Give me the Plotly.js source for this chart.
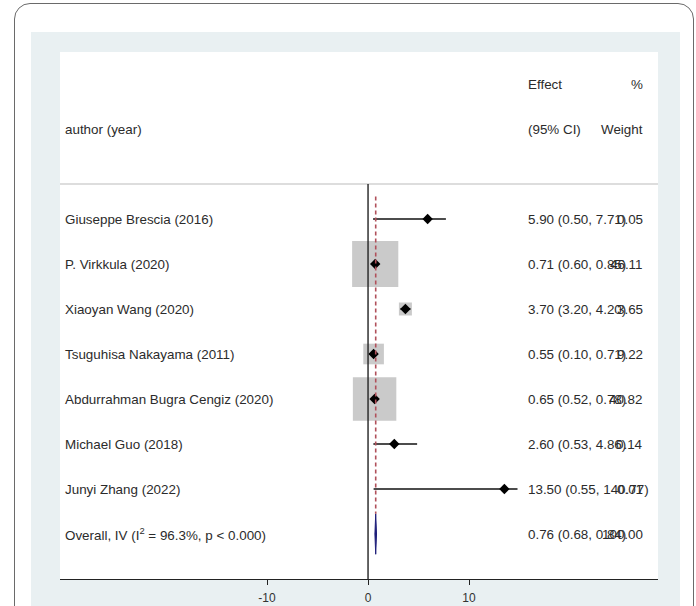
<!DOCTYPE html>
<html>
<head>
<meta charset="utf-8">
<script src="https://cdn.plot.ly/plotly-3.0.1.min.js"></script>
<style>
  html, body { margin:0; padding:0; background:#ffffff; width:696px; height:606px; overflow:hidden; }
  #frame { position:absolute; left:14px; top:3px; width:678px; height:640px; border:1px solid #6a6a6a; border-radius:16px; background:#ffffff; }
  #region { position:absolute; left:31px; top:32px; width:649px; height:600px; background:#e9f0f2; }
  #chart { position:absolute; left:0; top:0; width:696px; height:606px; }
</style>
</head>
<body>
<div id="frame"></div>
<div id="region"></div>
<div id="chart"></div>
<script>
// ---- data ----
const authors = ["Giuseppe Brescia (2016)", "P. Virkkula (2020)", "Xiaoyan Wang (2020)",
  "Tsuguhisa Nakayama (2011)", "Abdurrahman Bugra Cengiz (2020)", "Michael Guo (2018)", "Junyi Zhang (2022)"];
const effect = [5.90, 0.71, 3.70, 0.55, 0.65, 2.60, 13.50];
const ciLow  = [0.50, 0.60, 3.20, 0.10, 0.52, 0.53, 0.55];
const ciHigh = [7.71, 0.85, 4.20, 0.71, 0.78, 4.86, 140.77];
const weight = [0.05, 46.11, 3.65, 9.22, 40.82, 0.14, 0.01];
const overallLabel = "Overall, IV (I<sup>2</sup> = 96.3%, p < 0.000)";
const overallEffect = 0.76, overallLow = 0.68, overallHigh = 0.84, overallWeight = 100.00;
const xTicks = [-10, 0, 10];
const xTickLabels = ["-10", "0", "10"];

// ---- styling constants ----
const FONT = "Liberation Sans, Arial, sans-serif";
const TXT = "#2b2b2b";
const FS = 13.4;
const ciClip = 14.8;       // display limit for CI lines
const boxScale = 6.8;      // px per sqrt(weight)
const n = authors.length;
const rows = authors.map((_, i) => i + 1);
const overallRow = n + 1;

// CI lines
const ciX = [], ciY = [];
for (let i = 0; i < n; i++) {
  ciX.push(ciLow[i], Math.min(ciHigh[i], ciClip), null);
  ciY.push(rows[i], rows[i], null);
}

const traces = [
  { type:"scatter", mode:"markers", x:effect, y:rows, hoverinfo:"skip",
    marker:{ symbol:"square", size:weight.map(w => boxScale*Math.sqrt(w)), color:"#b4b4b4", line:{width:0} } },
  { type:"scatter", mode:"lines", x:ciX, y:ciY, hoverinfo:"skip",
    line:{ color:"#111111", width:1.4 } },
  { type:"scatter", mode:"markers", x:effect, y:rows, hoverinfo:"skip",
    marker:{ symbol:"diamond", size:8, color:"#000000" } },
  { type:"scatter", mode:"lines", fill:"toself", hoverinfo:"skip",
    x:[overallLow, overallEffect, overallHigh, overallEffect, overallLow],
    y:[overallRow, overallRow - 0.45, overallRow, overallRow + 0.45, overallRow],
    fillcolor:"#1e1e7a", line:{ color:"#1e1e7a", width:1 } }
];

const ann = [];
function txt(x, y, s, anchor) {
  ann.push({ xref:"paper", yref:"y", x:x, y:y, text:s, showarrow:false, borderpad:0, borderwidth:0,
    xanchor:anchor, yanchor:"middle", font:{ family:FONT, size:FS, color:TXT } });
}
const W = 598;
const xLab = 5 / W, xEff = 468 / W, xWt = 583 / W;
txt(xLab, -1, "author (year)", "left");
txt(xEff, -2, "Effect", "left");
txt(xEff, -1, "(95% CI)", "left");
txt(xWt, -2, "%", "right");
txt(xWt, -1, "Weight", "right");
for (let i = 0; i < n; i++) {
  txt(xLab, rows[i], authors[i], "left");
  txt(xEff, rows[i], effect[i].toFixed(2) + " (" + ciLow[i].toFixed(2) + ", " + ciHigh[i].toFixed(2) + ")", "left");
  txt(xWt, rows[i], weight[i].toFixed(2), "right");
}
txt(xLab, overallRow, overallLabel, "left");
txt(xEff, overallRow, overallEffect.toFixed(2) + " (" + overallLow.toFixed(2) + ", " + overallHigh.toFixed(2) + ")", "left");
txt(xWt, overallRow, overallWeight.toFixed(2), "right");

const sepRow = 0.22;
const shapes = [
  { type:"line", xref:"paper", yref:"y", x0:0, x1:1, y0:sepRow, y1:sepRow, line:{ color:"#d2d2d2", width:1.5 } },
  { type:"line", xref:"x", yref:"y", x0:0, x1:0, y0:sepRow, y1:9, line:{ color:"#222222", width:1.4 } },
  { type:"line", xref:"x", yref:"y", x0:overallEffect, x1:overallEffect, y0:0.5, y1:overallRow - 0.45,
    line:{ color:"#b0505a", width:1.6, dash:"4px,3px" } }
];

const layout = {
  width:696, height:606,
  margin:{ l:60, r:38, t:52, b:27, pad:0 },
  paper_bgcolor:"rgba(0,0,0,0)", plot_bgcolor:"#ffffff",
  showlegend:false,
  xaxis:{ range:[-30.5, 28.71], showgrid:false, zeroline:false, showline:true, linecolor:"#222222", linewidth:1,
    ticks:"outside", ticklen:5, tickcolor:"#222222", tickvals:xTicks, ticktext:xTickLabels,
    ticklabelstandoff:3,
    tickfont:{ family:FONT, size:12, color:"#333333" }, fixedrange:true },
  yaxis:{ range:[9, -2.711], visible:false, fixedrange:true },
  shapes:shapes, annotations:ann
};
Plotly.newPlot("chart", traces, layout, { displayModeBar:false, staticPlot:true });
</script>
</body>
</html>
